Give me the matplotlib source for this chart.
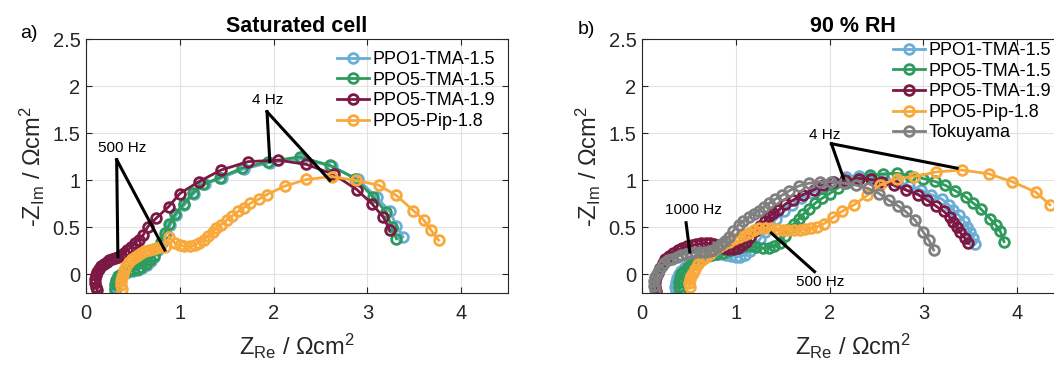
import matplotlib
matplotlib.use('Agg')
import matplotlib.pyplot as plt

plt.rcParams['font.family'] = ['Liberation Sans', 'DejaVu Sans']
plt.rcParams['mathtext.fontset'] = 'custom'
plt.rcParams['mathtext.rm'] = 'Liberation Sans'
plt.rcParams['mathtext.it'] = 'Liberation Sans:italic'
plt.rcParams['mathtext.bf'] = 'Liberation Sans:bold'

names = ['PPO1-TMA-1.5', 'PPO5-TMA-1.5', 'PPO5-TMA-1.9', 'PPO5-Pip-1.8', 'Tokuyama']
colors = ['#6aadd5', '#2e9a5c', '#7b1843', '#f9a93c', '#808080']

# ---- a) saturated cell ----
sat_ppo1_tma15_x = [0.31, 0.31, 0.32, 0.34, 0.37, 0.41, 0.45, 0.50, 0.55, 0.60,
                    0.65, 0.69, 0.73, 0.77, 0.81, 0.85, 0.90, 0.96, 1.05, 1.15,
                    1.27, 1.45, 1.68, 1.96, 2.30, 2.62, 2.90, 3.10, 3.24, 3.31, 3.38]
sat_ppo1_tma15_y = [-0.19, -0.13, -0.08, -0.04, -0.01, 0.01, 0.03, 0.04, 0.05, 0.07,
                    0.10, 0.14, 0.19, 0.26, 0.34, 0.43, 0.53, 0.63, 0.74, 0.86,
                    0.96, 1.03, 1.12, 1.19, 1.23, 1.15, 1.01, 0.82, 0.67, 0.52, 0.40]

sat_ppo5_tma15_x = [0.31, 0.31, 0.32, 0.34, 0.37, 0.41, 0.45, 0.50, 0.55, 0.59,
                    0.64, 0.68, 0.72, 0.76, 0.80, 0.84, 0.89, 0.95, 1.04, 1.14,
                    1.25, 1.43, 1.66, 1.94, 2.28, 2.60, 2.87, 3.06, 3.20, 3.26, 3.31]
sat_ppo5_tma15_y = [-0.15, -0.10, -0.06, -0.02, 0.01, 0.03, 0.04, 0.05, 0.06, 0.08,
                    0.11, 0.15, 0.20, 0.27, 0.35, 0.44, 0.54, 0.64, 0.75, 0.87,
                    0.96, 1.03, 1.13, 1.20, 1.25, 1.16, 1.02, 0.825, 0.665, 0.51, 0.38]

sat_ppo5_tma19_x = [0.12, 0.11, 0.10, 0.10, 0.11, 0.12, 0.14, 0.16, 0.19, 0.22,
                    0.25, 0.28, 0.31, 0.34, 0.37, 0.40, 0.44, 0.48, 0.52, 0.56,
                    0.61, 0.66, 0.75, 0.88, 1.00, 1.20, 1.44, 1.73, 2.05, 2.35,
                    2.64, 2.89, 3.05, 3.17, 3.24]
sat_ppo5_tma19_y = [-0.17, -0.13, -0.09, -0.05, -0.01, 0.03, 0.06, 0.09, 0.11, 0.13,
                    0.15, 0.16, 0.18, 0.19, 0.21, 0.23, 0.26, 0.29, 0.33, 0.37,
                    0.42, 0.51, 0.60, 0.72, 0.86, 0.985, 1.11, 1.20, 1.215, 1.17,
                    1.065, 0.90, 0.75, 0.61, 0.47]

sat_ppo5_pip18_x = [0.38, 0.37, 0.37, 0.38, 0.39, 0.41, 0.43, 0.46, 0.49, 0.52,
                    0.55, 0.59, 0.63, 0.67, 0.71, 0.75, 0.79, 0.84, 0.89, 0.95,
                    1.00, 1.05, 1.11, 1.16, 1.21, 1.26, 1.30, 1.35, 1.39, 1.44,
                    1.50, 1.56, 1.62, 1.68, 1.75, 1.84, 1.93, 2.12, 2.35, 2.62,
                    2.88, 3.12, 3.31, 3.49, 3.60, 3.68, 3.76]
sat_ppo5_pip18_y = [-0.15, -0.11, -0.07, -0.03, 0.01, 0.05, 0.09, 0.13, 0.16, 0.19,
                    0.21, 0.23, 0.25, 0.26, 0.27, 0.28, 0.29, 0.29, 0.40, 0.33,
                    0.31, 0.30, 0.30, 0.31, 0.34, 0.37, 0.41, 0.45, 0.49, 0.53,
                    0.58, 0.625, 0.67, 0.71, 0.755, 0.80, 0.85, 0.94, 1.01, 1.04,
                    1.00, 0.95, 0.84, 0.68, 0.58, 0.47, 0.365]

# ---- b) 90 % RH ----
rh_ppo1_tma15_x = [0.36, 0.35, 0.36, 0.37, 0.39, 0.42, 0.46, 0.50, 0.55, 0.60,
                   0.65, 0.70, 0.75, 0.80, 0.85, 0.90, 0.95, 1.00, 1.05, 1.10,
                   1.15, 1.21, 1.26, 1.31, 1.37, 1.43, 1.51, 1.60, 1.70, 1.81,
                   1.93, 2.05, 2.18, 2.31, 2.43, 2.58, 2.72, 2.85, 2.97, 3.08,
                   3.20, 3.27, 3.32, 3.38, 3.43, 3.47, 3.50, 3.53, 3.55]
rh_ppo1_tma15_y = [-0.18, -0.13, -0.08, -0.04, 0.00, 0.04, 0.08, 0.11, 0.14, 0.16,
                   0.18, 0.20, 0.21, 0.22, 0.22, 0.21, 0.20, 0.19, 0.19, 0.21,
                   0.25, 0.31, 0.38, 0.45, 0.52, 0.59, 0.67, 0.74, 0.81, 0.87,
                   0.915, 0.98, 1.04, 1.05, 1.04, 1.02, 0.985, 0.94, 0.90, 0.85,
                   0.80, 0.74, 0.685, 0.63, 0.57, 0.51, 0.45, 0.39, 0.32]

rh_ppo5_tma15_x = [0.40, 0.39, 0.39, 0.40, 0.42, 0.45, 0.49, 0.53, 0.58, 0.63,
                   0.68, 0.74, 0.80, 0.86, 0.92, 0.98, 1.04, 1.10, 1.16, 1.22,
                   1.29, 1.35, 1.41, 1.47, 1.52, 1.57, 1.62, 1.67, 1.72, 1.78,
                   1.85, 1.92, 2.00, 2.09, 2.18, 2.30, 2.43, 2.57, 2.72, 2.86,
                   3.00, 3.12, 3.23, 3.34, 3.45, 3.53, 3.61, 3.71, 3.77, 3.82, 3.86]
rh_ppo5_tma15_y = [-0.18, -0.13, -0.08, -0.04, 0.00, 0.04, 0.08, 0.11, 0.14, 0.17,
                   0.19, 0.21, 0.22, 0.23, 0.25, 0.27, 0.29, 0.30, 0.30, 0.29,
                   0.28, 0.28, 0.30, 0.34, 0.41, 0.48, 0.54, 0.59, 0.64, 0.70,
                   0.76, 0.81, 0.86, 0.92, 0.97, 1.02, 1.056, 1.07, 1.075, 1.05,
                   1.02, 0.99, 0.95, 0.89, 0.825, 0.76, 0.70, 0.595, 0.53, 0.46, 0.35]

rh_ppo5_tma19_x = [0.15, 0.14, 0.14, 0.15, 0.17, 0.19, 0.22, 0.25, 0.29, 0.33,
                   0.38, 0.43, 0.48, 0.53, 0.58, 0.63, 0.68, 0.72, 0.77, 0.82,
                   0.87, 0.92, 0.97, 1.02, 1.07, 1.11, 1.15, 1.20, 1.26, 1.31,
                   1.35, 1.40, 1.455, 1.53, 1.61, 1.72, 1.83, 1.93, 2.04, 2.17,
                   2.31, 2.44, 2.56, 2.69, 2.81, 2.94, 3.04, 3.13, 3.22, 3.28,
                   3.32, 3.36, 3.39, 3.44, 3.48]
rh_ppo5_tma19_y = [-0.18, -0.13, -0.08, -0.03, 0.02, 0.07, 0.12, 0.16, 0.20, 0.23,
                   0.26, 0.28, 0.30, 0.31, 0.32, 0.33, 0.33, 0.33, 0.32, 0.30,
                   0.28, 0.27, 0.27, 0.28, 0.31, 0.35, 0.40, 0.46, 0.52, 0.57,
                   0.62, 0.65, 0.685, 0.75, 0.79, 0.85, 0.90, 0.95, 0.985, 1.00,
                   1.02, 1.01, 0.985, 0.95, 0.90, 0.85, 0.79, 0.73, 0.67, 0.61,
                   0.56, 0.50, 0.45, 0.39, 0.33]

rh_ppo5_pip18_x = [0.51, 0.50, 0.51, 0.52, 0.54, 0.57, 0.60, 0.64, 0.68, 0.72,
                   0.77, 0.82, 0.87, 0.93, 0.98, 1.03, 1.09, 1.14, 1.19, 1.25,
                   1.31, 1.38, 1.44, 1.50, 1.56, 1.62, 1.68, 1.74, 1.80, 1.87,
                   1.94, 2.04, 2.13, 2.26, 2.40, 2.54, 2.72, 2.90, 3.14, 3.41,
                   3.70, 3.95, 4.20, 4.35]
rh_ppo5_pip18_y = [-0.13, -0.09, -0.05, -0.02, 0.02, 0.06, 0.11, 0.15, 0.19, 0.22,
                   0.26, 0.29, 0.32, 0.35, 0.38, 0.40, 0.42, 0.44, 0.47, 0.49,
                   0.49, 0.49, 0.48, 0.47, 0.47, 0.47, 0.47, 0.48, 0.49, 0.51,
                   0.54, 0.61, 0.67, 0.74, 0.84, 0.95, 1.02, 1.04, 1.09, 1.11,
                   1.07, 0.985, 0.875, 0.74]

rh_tokuyama_x = [0.14, 0.13, 0.13, 0.14, 0.16, 0.18, 0.21, 0.24, 0.28, 0.32,
                 0.37, 0.42, 0.47, 0.52, 0.57, 0.62, 0.67, 0.72, 0.76, 0.80,
                 0.84, 0.88, 0.925, 0.97, 1.03, 1.08, 1.14, 1.19, 1.245, 1.30,
                 1.35, 1.42, 1.49, 1.57, 1.67, 1.78, 1.90, 2.02, 2.15, 2.28,
                 2.41, 2.53, 2.63, 2.73, 2.81, 2.91, 3.00, 3.06, 3.11]
rh_tokuyama_y = [-0.17, -0.12, -0.07, -0.03, 0.01, 0.05, 0.09, 0.12, 0.15, 0.17,
                 0.19, 0.21, 0.22, 0.23, 0.235, 0.24, 0.24, 0.245, 0.26, 0.29,
                 0.32, 0.36, 0.40, 0.46, 0.53, 0.57, 0.61, 0.645, 0.68, 0.72,
                 0.755, 0.80, 0.84, 0.89, 0.94, 0.97, 0.985, 0.985, 0.97, 0.95,
                 0.915, 0.86, 0.79, 0.73, 0.67, 0.58, 0.45, 0.365, 0.26]

sat_series = [(sat_ppo1_tma15_x, sat_ppo1_tma15_y), (sat_ppo5_tma15_x, sat_ppo5_tma15_y),
              (sat_ppo5_tma19_x, sat_ppo5_tma19_y), (sat_ppo5_pip18_x, sat_ppo5_pip18_y)]
rh_series = [(rh_ppo1_tma15_x, rh_ppo1_tma15_y), (rh_ppo5_tma15_x, rh_ppo5_tma15_y),
             (rh_ppo5_tma19_x, rh_ppo5_tma19_y), (rh_ppo5_pip18_x, rh_ppo5_pip18_y),
             (rh_tokuyama_x, rh_tokuyama_y)]

# frequency labels: text position, then pointer ends
sat_notes = [('500 Hz', (0.39, 1.34), (0.327, 1.22), [(0.34, 0.19), (0.84, 0.26)]),
             ('4 Hz', (1.94, 1.85), (1.93, 1.73), [(1.96, 1.20), (2.60, 1.00)])]
rh_notes = [('4 Hz', (1.95, 1.48), (2.02, 1.39), [(2.15, 1.02), (3.36, 1.13)]),
            ('1000 Hz', (0.55, 0.69), (0.47, 0.55), [(0.51, 0.24)]),
            ('500 Hz', (1.90, -0.08), (1.84, 0.03), [(1.38, 0.44)])]

fig = plt.figure(figsize=(10.54, 3.65), dpi=100)
ax1 = fig.add_axes([0.0816, 0.1964, 0.4004, 0.696])
ax2 = fig.add_axes([0.6091, 0.1964, 0.4004, 0.696])

dark = '#262626'


def style(ax, title):
    ax.set_xlim(0, 4.5)
    ax.set_ylim(-0.2, 2.5)
    ax.set_xticks([0, 1, 2, 3, 4])
    ax.set_yticks([0, 0.5, 1, 1.5, 2, 2.5])
    ax.set_yticklabels(['0', '0.5', '1', '1.5', '2', '2.5'])
    ax.grid(True, color='#e2e2e2', lw=0.8)
    ax.set_axisbelow(True)
    ax.tick_params(direction='in', top=True, right=True, length=4, width=0.8,
                   color=dark, labelsize=14.5, labelcolor=dark)
    ax.tick_params(axis='x', pad=8)
    ax.tick_params(axis='y', pad=4)
    for s in ax.spines.values():
        s.set_color(dark)
        s.set_linewidth(0.8)
    ax.set_xlabel('Z$_{\\mathrm{Re}}$ / Ωcm$^2$', fontsize=17, color=dark, labelpad=6)
    ax.set_ylabel('-Z$_{\\mathrm{Im}}$ / Ωcm$^2$', fontsize=17, color=dark, labelpad=4)
    ax.set_title(title, fontsize=15.5, fontweight='bold', pad=5)


def draw(ax, series, notes):
    for (x, y), c, n in zip(series, colors, names):
        ax.plot(x, y, '-o', color=c, mfc='none', mec=c, ms=7, mew=2.0, lw=2.0, label=n)
    for txt, tpos, start, ends in notes:
        ax.text(tpos[0], tpos[1], txt, fontsize=11, ha='center', va='center', zorder=5)
        for e in ends:
            ax.plot([start[0], e[0]], [start[1], e[1]], color='k', lw=2.2, zorder=6)


draw(ax1, sat_series, sat_notes)
draw(ax2, rh_series, rh_notes)
style(ax1, 'Saturated cell')
style(ax2, '90 % RH')

for ax, anchor in [(ax1, (337 / 1054, 1 - 51 / 365)), (ax2, (893 / 1054, 1 - 42 / 365))]:
    ax.legend(loc='upper left', bbox_to_anchor=anchor, bbox_transform=fig.transFigure,
              frameon=False, fontsize=13, handlelength=1.75, handletextpad=0.2,
              labelspacing=0.2, borderpad=0, borderaxespad=0)

fig.text(29 / 1054, 1 - 33 / 365, 'a)', fontsize=14, ha='center', va='center')
fig.text(586 / 1054, 1 - 30 / 365, 'b)', fontsize=14, ha='center', va='center')

fig.savefig('out.png', dpi=100)
